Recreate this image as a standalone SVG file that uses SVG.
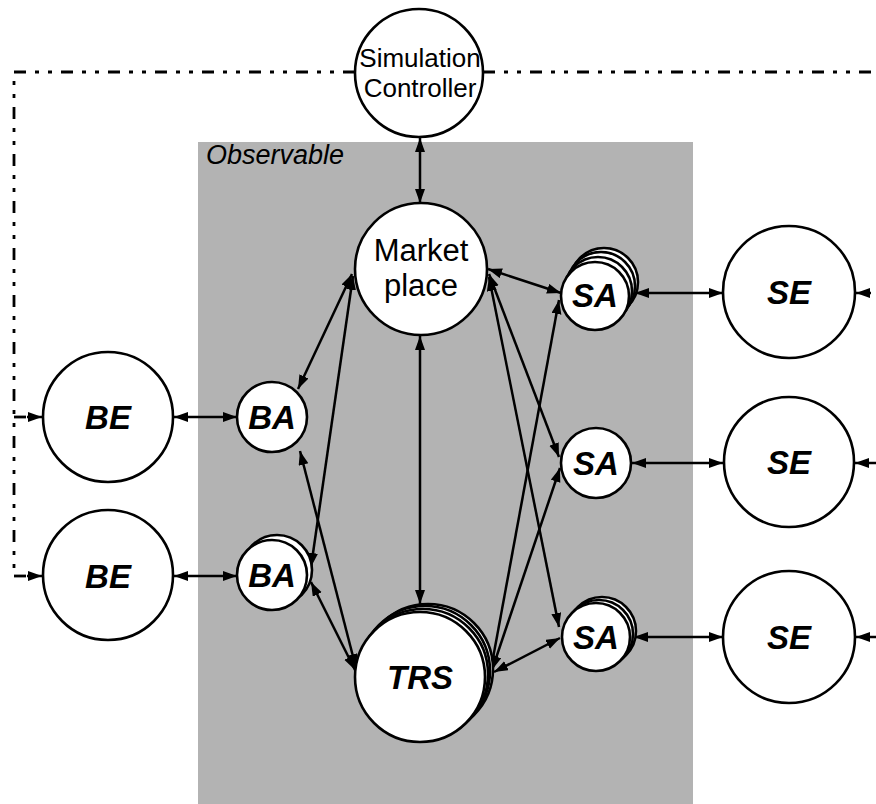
<svg xmlns="http://www.w3.org/2000/svg" width="876" height="804" viewBox="0 0 876 804">
<defs>
<marker id="ah" markerUnits="userSpaceOnUse" markerWidth="15" markerHeight="11" refX="14" refY="5" orient="auto-start-reverse">
<path d="M0,0 L14,5 L0,10 z" fill="#000"/>
</marker>
</defs>
<style>
.n{fill:#fff;stroke:#000;stroke-width:2.6}
.t{font-family:"Liberation Sans",Arial,sans-serif;font-size:33px;font-weight:bold;font-style:italic;text-anchor:middle;fill:#000}
.r{font-family:"Liberation Sans",Arial,sans-serif;text-anchor:middle;fill:#000}
.c{stroke:#000;stroke-width:2.5;fill:none;marker-start:url(#ah);marker-end:url(#ah)}
.d{stroke:#000;stroke-width:2.8;fill:none;stroke-dasharray:12 9 4 9 4 9}
.e{stroke:#000;stroke-width:2.5;fill:none;marker-end:url(#ah)}
</style>
<rect x="0" y="0" width="876" height="804" fill="#fff"/>
<rect id="observable" x="198" y="142" width="495" height="662" fill="#b3b3b3"/>
<text x="206" y="164" font-family="Liberation Sans, Arial, sans-serif" font-size="27" font-style="italic" fill="#000">Observable</text>

<g id="control-lines">
<path class="d" d="M355,72 L14,72 L14,577"/>
<path class="d" d="M483,72 L876,72"/>
<line class="d" x1="14" y1="417" x2="28" y2="417"/>
<line class="d" x1="14" y1="576" x2="28" y2="576"/>
<line class="e" x1="27" y1="417" x2="42" y2="417"/>
<line class="e" x1="27" y1="576" x2="42" y2="576"/>
<line class="e" x1="871" y1="293" x2="856" y2="293"/>
<line class="e" x1="876" y1="463" x2="855" y2="463"/>
<line class="e" x1="876" y1="637" x2="856" y2="637"/>
</g>

<g id="connectors">
<line class="c" x1="420" y1="138" x2="420" y2="203"/>
<line class="c" x1="420" y1="336" x2="420" y2="604"/>
<line class="c" x1="174" y1="417" x2="237" y2="417"/>
<line class="c" x1="174" y1="576" x2="237" y2="576"/>
<line class="c" x1="635" y1="293" x2="723" y2="293"/>
<line class="c" x1="632" y1="463" x2="723" y2="463"/>
<line class="c" x1="634" y1="637" x2="723" y2="637"/>
<line class="c" x1="352" y1="274" x2="298" y2="389"/>
<line class="c" x1="353" y1="276" x2="311" y2="567"/>
<line class="c" x1="300" y1="451" x2="356" y2="668"/>
<line class="c" x1="311" y1="582" x2="355" y2="670"/>
<line class="c" x1="488" y1="269" x2="561" y2="293"/>
<line class="c" x1="489" y1="274" x2="559" y2="457"/>
<line class="c" x1="489" y1="277" x2="559" y2="627"/>
<line class="c" x1="491" y1="669" x2="559" y2="300"/>
<line class="c" x1="492" y1="670" x2="560" y2="468"/>
<line class="c" x1="494" y1="672" x2="560" y2="638"/>
</g>

<g id="simulation-controller">
<circle class="n" cx="419" cy="73" r="64"/>
<text class="r" x="420" y="67" font-size="26">Simulation</text>
<text class="r" x="420" y="97" font-size="26">Controller</text>
</g>

<g id="market-place">
<circle class="n" cx="421" cy="269" r="66"/>
<text class="r" x="421" y="261" font-size="31">Market</text>
<text class="r" x="421" y="296" font-size="31">place</text>
</g>

<g id="trs">
<circle class="n" cx="428" cy="669" r="65"/>
<circle class="n" cx="425" cy="671" r="65"/>
<circle class="n" cx="423" cy="674" r="65"/>
<circle class="n" cx="420" cy="677" r="65"/>
<text class="t" x="420" y="689">TRS</text>
</g>

<g id="ba-1">
<circle class="n" cx="272" cy="417" r="35"/>
<text class="t" x="272" y="429">BA</text>
</g>
<g id="ba-2">
<circle class="n" cx="277" cy="570" r="35"/>
<circle class="n" cx="272" cy="575" r="35"/>
<text class="t" x="272" y="587">BA</text>
</g>

<g id="be-1">
<circle class="n" cx="108" cy="417" r="65"/>
<text class="t" x="108" y="429">BE</text>
</g>
<g id="be-2">
<circle class="n" cx="108" cy="575" r="65"/>
<text class="t" x="108" y="588">BE</text>
</g>

<g id="sa-1">
<circle class="n" cx="604" cy="282" r="34"/>
<circle class="n" cx="601" cy="286" r="34"/>
<circle class="n" cx="598" cy="291" r="34"/>
<circle class="n" cx="595" cy="296" r="34"/>
<text class="t" x="595" y="307">SA</text>
</g>
<g id="sa-2">
<circle class="n" cx="596" cy="463" r="35"/>
<text class="t" x="596" y="475">SA</text>
</g>
<g id="sa-3">
<circle class="n" cx="602" cy="631" r="34"/>
<circle class="n" cx="599" cy="634" r="34"/>
<circle class="n" cx="596" cy="637" r="34"/>
<text class="t" x="596" y="649">SA</text>
</g>

<g id="se-1">
<circle class="n" cx="789" cy="292" r="66"/>
<text class="t" x="789" y="304">SE</text>
</g>
<g id="se-2">
<circle class="n" cx="789" cy="462" r="65"/>
<text class="t" x="789" y="474">SE</text>
</g>
<g id="se-3">
<circle class="n" cx="789" cy="637" r="66"/>
<text class="t" x="789" y="649">SE</text>
</g>
</svg>
